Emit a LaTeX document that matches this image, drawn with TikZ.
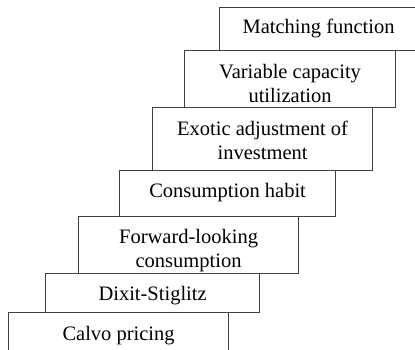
\documentclass[tikz,border=0pt]{standalone}
\usepackage{fontspec}
\setmainfont{Liberation Serif}
\usetikzlibrary{positioning,calc}

\begin{document}
\begin{tikzpicture}[
    x=1pt, y=-1pt,
    stepbox/.style={draw=black!75, line width=1.2pt, inner sep=0pt, anchor=north west},
    steptext/.style={font=\fontsize{20.5}{24}\selectfont, align=center, anchor=base, inner sep=0pt},
]
    \useasboundingbox (0,0) rectangle (415,349);
    \clip (0,0) rectangle (415,349);

    % Steps, from the bottom up
    \node[stepbox, minimum width=220pt, minimum height=44pt] (calvo) at (8,312) {};
    \node[stepbox, minimum width=214pt, minimum height=39pt] (dixit) at (45,273) {};
    \node[stepbox, minimum width=220pt, minimum height=57pt] (forward) at (78,216) {};
    \node[stepbox, minimum width=216pt, minimum height=46pt] (habit) at (119,170) {};
    \node[stepbox, minimum width=220pt, minimum height=63pt] (exotic) at (152,107) {};
    \node[stepbox, minimum width=211pt, minimum height=57pt] (capacity) at (184,50) {};
    \node[stepbox, minimum width=200pt, minimum height=43pt] (matching) at (219,7) {};

    % Labels (base = last line)
    \node[steptext] (calvotxt) at ($(calvo.north)+(0,28)$) {Calvo pricing};
    \node[steptext] (dixittxt) at ($(dixit.north)+(0,27)$) {Dixit-Stiglitz};
    \node[steptext] (forwardtxt) at ($(forward.north)+(0,51)$) {Forward-looking\\consumption};
    \node[steptext] (habittxt) at ($(habit.north)+(0,27)$) {Consumption habit};
    \node[steptext] (exotictxt) at ($(exotic.north)+(0,52)$) {Exotic adjustment of\\investment};
    \node[steptext] (capacitytxt) at ($(capacity.north)+(0,52)$) {Variable capacity\\utilization};
    \node[steptext] (matchingtxt) at ($(matching.north)+(-1,26)$) {Matching function};
\end{tikzpicture}
\end{document}
